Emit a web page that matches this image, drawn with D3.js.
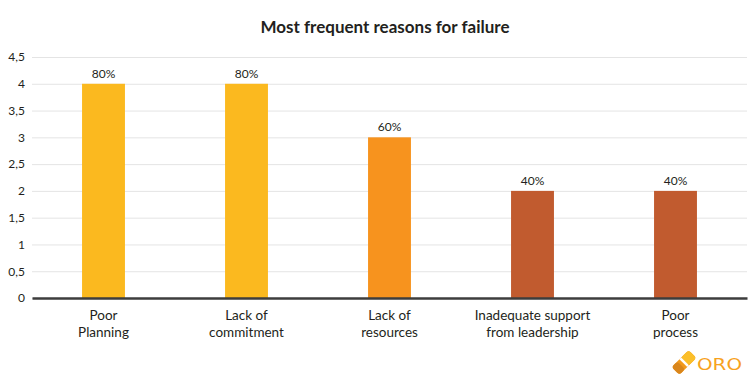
<!DOCTYPE html>
<html>
<head>
<meta charset="utf-8">
<script src="https://cdn.jsdelivr.net/npm/d3@7"></script>
<style>
  body { margin: 0; background: #fff; }
  text { font-family: Lato, "Open Sans", sans-serif; fill: #231f20; }
</style>
</head>
<body>
<div id="chart"></div>
<script>

// chart data
var categories = [["Poor", "Planning"], ["Lack of", "commitment"], ["Lack of", "resources"],
                  ["Inadequate support", "from leadership"], ["Poor", "process"]];
var values = [4, 4, 3, 2, 2];
var valueLabels = ["80%", "80%", "60%", "40%", "40%"];
var barColors = ["#fbb91f", "#fbb91f", "#f7931e", "#c15b2f", "#c15b2f"];
var yTicks = [0, 0.5, 1, 1.5, 2, 2.5, 3, 3.5, 4, 4.5];

var W = 750, H = 384;
var margin = {top: 57, right: 3, bottom: 86, left: 32},
    width = W - margin.left - margin.right,
    height = H - margin.top - margin.bottom;

var svg = d3.select("#chart")
  .append("svg")
    .attr("width", W)
    .attr("height", H);

// title
svg.append("text")
  .attr("x", 385)
  .attr("y", 33)
  .attr("text-anchor", "middle")
  .style("font-size", "17px")
  .style("font-weight", "bold")
  .text("Most frequent reasons for failure");

var g = svg.append("g")
  .attr("transform", "translate(" + margin.left + "," + margin.top + ")");

var x = d3.scaleBand()
  .domain(d3.range(categories.length))
  .range([0, width])
  .paddingInner(0.7)
  .paddingOuter(0.35);

var y = d3.scaleLinear()
  .domain([0, 4.5])
  .range([height, 0]);

// gridlines
g.append("g")
  .call(d3.axisLeft(y)
    .tickValues(yTicks)
    .tickSize(-width)
    .tickFormat(""))
  .call(function(s) {
    s.select(".domain").remove();
    s.selectAll("line").attr("stroke", "#e4e4e4");
  });

// y axis labels
g.append("g")
  .call(d3.axisLeft(y)
    .tickValues(yTicks)
    .tickSize(0)
    .tickPadding(7)
    .tickFormat(function(d) { return String(d).replace(".", ","); }))
  .call(function(s) {
    s.select(".domain").remove();
    s.selectAll("text")
      .style("font-size", "12px")
      .style("font-family", "Lato, 'Open Sans', sans-serif")
      .attr("fill", "#231f20");
  });

// bars
g.selectAll(".bar")
  .data(values)
  .enter().append("rect")
    .attr("class", "bar")
    .attr("x", function(d, i) { return x(i); })
    .attr("width", x.bandwidth())
    .attr("y", function(d) { return y(d); })
    .attr("height", function(d) { return height - y(d); })
    .attr("fill", function(d, i) { return barColors[i]; });

// value labels
g.selectAll(".val")
  .data(values)
  .enter().append("text")
    .attr("class", "val")
    .attr("x", function(d, i) { return x(i) + x.bandwidth() / 2; })
    .attr("y", function(d) { return y(d) - 6; })
    .attr("text-anchor", "middle")
    .style("font-size", "12px")
    .text(function(d, i) { return valueLabels[i]; });

// x axis
var xAxis = g.append("g")
  .attr("transform", "translate(0," + height + ")")
  .call(d3.axisBottom(x).tickSize(0).tickFormat(""));
xAxis.select(".domain")
  .attr("stroke", "#3d3d3d")
  .attr("stroke-width", 2.5);

// category labels (two lines)
g.selectAll(".cat")
  .data(categories)
  .enter().append("text")
    .attr("class", "cat")
    .attr("text-anchor", "middle")
    .style("font-size", "13.5px")
    .attr("transform", function(d, i) {
      return "translate(" + (x(i) + x.bandwidth() / 2) + "," + (height + 22) + ")";
    })
    .selectAll("tspan")
    .data(function(d) { return d; })
    .enter().append("tspan")
      .attr("x", 0)
      .attr("dy", function(d, j) { return j === 0 ? 0 : 17; })
      .text(function(d) { return d; });

// ORO logo
var logo = svg.append("g").attr("transform", "translate(684,362.5) rotate(45)");
logo.append("rect")
  .attr("x", -5.5).attr("y", -12)
  .attr("width", 11).attr("height", 24)
  .attr("rx", 3)
  .attr("fill", "#f29a1c");
logo.append("rect")
  .attr("x", -5.5).attr("y", -12)
  .attr("width", 11).attr("height", 11)
  .attr("rx", 3)
  .attr("fill", "#fbbf2a");
logo.append("rect")
  .attr("x", -5.5).attr("y", -1.5)
  .attr("width", 11).attr("height", 2.5)
  .attr("fill", "#fff");
logo.append("rect")
  .attr("x", -5.5).attr("y", 4)
  .attr("width", 11).attr("height", 8)
  .attr("rx", 3)
  .attr("fill", "#d9861c");
svg.append("text")
  .attr("x", 697)
  .attr("y", 369.5)
  .attr("textLength", 45)
  .attr("lengthAdjust", "spacingAndGlyphs")
  .style("font-size", "15px")
  .style("font-family", "'DejaVu Sans', sans-serif")
  .style("fill", "#f7a21e")
  .text("ORO");

</script>
</body>
</html>
